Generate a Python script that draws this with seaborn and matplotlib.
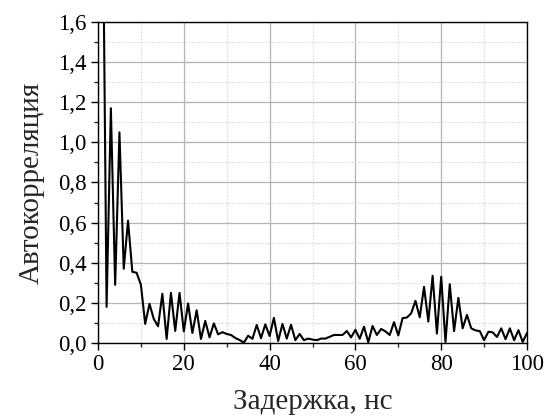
import numpy as np
import pandas as pd
import matplotlib
matplotlib.use("Agg")
import matplotlib.pyplot as plt
import matplotlib.ticker as mticker
import seaborn as sns

delay_ns = list(range(0, 101))
autocorr = [
    4.0, 2.5, 0.18, 1.17, 0.29, 1.05, 0.37, 0.61, 0.355, 0.35,
    0.29, 0.095, 0.195, 0.12, 0.083, 0.245, 0.02, 0.25, 0.06, 0.25,
    0.058, 0.197, 0.05, 0.163, 0.02, 0.11, 0.028, 0.098, 0.043, 0.054,
    0.045, 0.04, 0.025, 0.015, 0.002, 0.036, 0.021, 0.09, 0.024, 0.093,
    0.035, 0.125, 0.01, 0.095, 0.022, 0.091, 0.014, 0.045, 0.014, 0.022,
    0.017, 0.014, 0.022, 0.022, 0.031, 0.04, 0.04, 0.04, 0.06, 0.028,
    0.066, 0.021, 0.081, 0.004, 0.085, 0.04, 0.07, 0.058, 0.04, 0.104,
    0.038, 0.124, 0.127, 0.148, 0.21, 0.128, 0.28, 0.107, 0.335, 0.047,
    0.33, 0.005, 0.293, 0.059, 0.225, 0.073, 0.14, 0.073, 0.063, 0.059,
    0.014, 0.056, 0.053, 0.03, 0.073, 0.019, 0.073, 0.014, 0.064, 0.005,
    0.05,
]
x_label = "Задержка, нс"
y_label = "Автокорреляция"

sns.set_style("ticks")
plt.rcParams["font.family"] = ["Liberation Serif", "DejaVu Serif"]

df = pd.DataFrame({"x": delay_ns, "y": autocorr})

fig = plt.figure(figsize=(5.48, 4.16), dpi=100)
ax = fig.add_axes([98 / 548, 1 - 343 / 416, (527 - 98) / 548, (343 - 22) / 416])
sns.lineplot(data=df, x="x", y="y", ax=ax, color="black", linewidth=1.5)

ax.set_xlim(0, 100)
ax.set_ylim(0, 1.6)
ax.xaxis.set_major_locator(mticker.MultipleLocator(20))
ax.xaxis.set_minor_locator(mticker.MultipleLocator(10))
ax.yaxis.set_major_locator(mticker.MultipleLocator(0.2))
ax.yaxis.set_minor_locator(mticker.MultipleLocator(0.1))
ax.yaxis.set_major_formatter(mticker.FuncFormatter(lambda v, p: f"{v:.1f}".replace(".", ",")))

ax.grid(True, which="major", color="#b4b4b4", linewidth=0.9, linestyle="-")
ax.grid(True, which="minor", color="#dadada", linewidth=0.8, linestyle=(0, (1.5, 1.5)))
ax.set_axisbelow(True)

for s in ax.spines.values():
    s.set_color("black")
    s.set_linewidth(1.0)

ax.tick_params(axis="both", which="major", direction="out", length=5, width=1,
               labelsize=16.5, colors="black", pad=3)
ax.tick_params(axis="both", which="minor", direction="out", length=3, width=1)

ax.set_xlabel(x_label, fontsize=21, labelpad=10)
ax.set_ylabel(y_label, fontsize=21, labelpad=10)

fig.savefig("out.png", dpi=100)
